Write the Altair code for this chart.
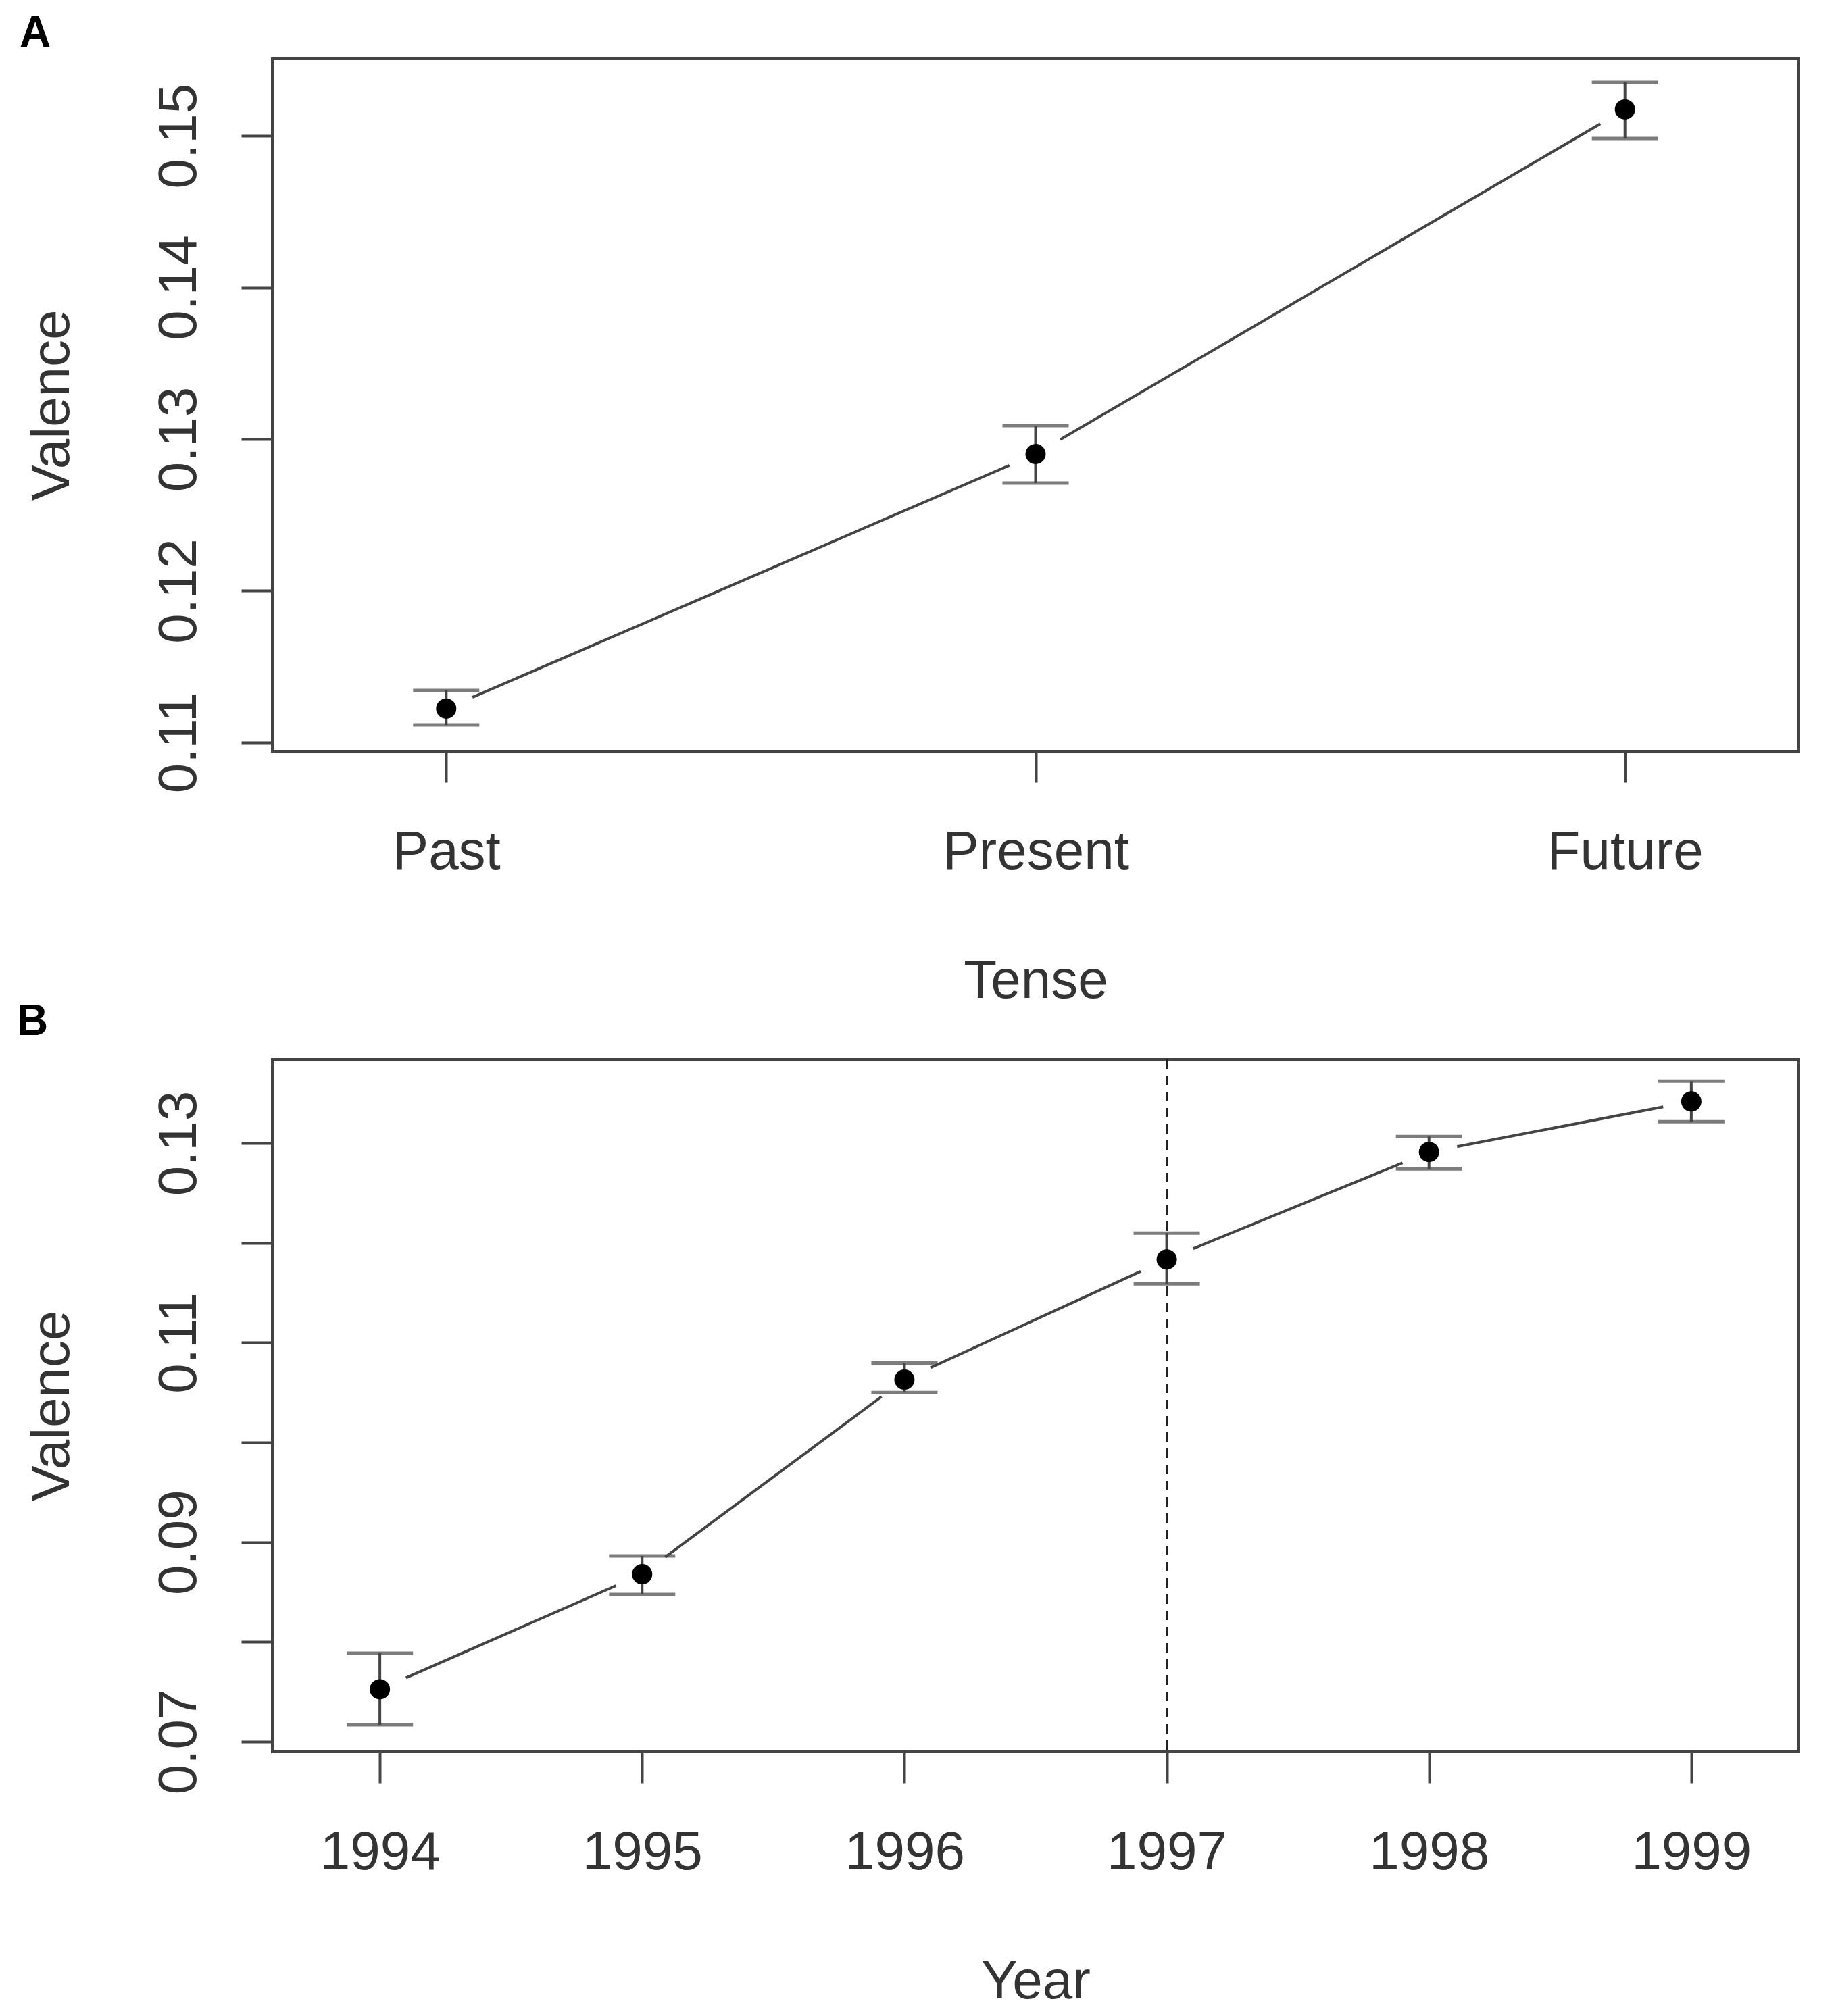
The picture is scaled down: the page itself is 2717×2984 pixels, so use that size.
import altair as alt
import pandas as pd

# ---- data ----
tenses = ["Past", "Present", "Future"]
tense_mean = [0.11223, 0.12902, 0.15174]
tense_lo = [0.11116, 0.12710, 0.14982]
tense_hi = [0.11343, 0.13089, 0.15352]

years = [1994, 1995, 1996, 1997, 1998, 1999]
year_mean = [0.07525, 0.08679, 0.10629, 0.11834, 0.12911, 0.13418]
year_lo = [0.07169, 0.08476, 0.10500, 0.11590, 0.12741, 0.13215]
year_hi = [0.07887, 0.08862, 0.10795, 0.12098, 0.13066, 0.13621]
cutoff_year = [1997]

ticks_a = [0.11, 0.12, 0.13, 0.14, 0.15]
ticks_b = [0.07, 0.08, 0.09, 0.10, 0.11, 0.12, 0.13]
panel_labels = ["A", "B"]

# ---- styling ----
FONT = "Liberation Sans"
TXT = "#333333"
INK = "#444444"
W, H = 2259, 1025

dfa = pd.DataFrame({"tense": tenses, "mean": tense_mean, "lo": tense_lo, "hi": tense_hi})
dfb = pd.DataFrame({"year": years, "mean": year_mean, "lo": year_lo, "hi": year_hi})


def x_axis(title, **kw):
    return alt.Axis(title=title, labelAngle=0, labelBaseline="alphabetic",
                    labelPadding=127, labelLimit=0, titleX=W / 2, titleY=364,
                    titleBaseline="alphabetic", titleAlign="center", **kw)


def y_axis(values, **kw):
    return alt.Axis(title="Valence", values=values, format=".2f", labelAngle=270,
                    labelAlign="center", labelBaseline="alphabetic", labelPadding=68,
                    labelLimit=0, titleX=-302, titleY=H / 2, titleAngle=270,
                    titleBaseline="alphabetic", titleAlign="center", **kw)


def panel(df, xenc_fn, yscale, yax, label, label_x, label_y, extra=None):
    base = alt.Chart(df)

    def Y(field):
        return alt.Y(f"{field}:Q", scale=yscale, axis=yax)

    line = base.mark_line(color=INK, strokeWidth=4).encode(x=xenc_fn(), y=Y("mean"))
    halo = base.mark_circle(size=7200, color="white", opacity=1).encode(x=xenc_fn(), y=Y("mean"))
    stem = base.mark_rule(color=INK, strokeWidth=4).encode(x=xenc_fn(), y=Y("lo"), y2="hi:Q")
    cap_lo = base.mark_tick(orient="horizontal", size=98, thickness=5, color=INK).encode(
        x=xenc_fn(), y=Y("lo"))
    cap_hi = base.mark_tick(orient="horizontal", size=98, thickness=5, color=INK).encode(
        x=xenc_fn(), y=Y("hi"))
    pts = base.mark_circle(size=900, color="black", opacity=1).encode(x=xenc_fn(), y=Y("mean"))
    lab = alt.Chart(pd.DataFrame({"label": [label]})).mark_text(
        align="left", baseline="alphabetic", font=FONT, fontWeight="bold",
        fontSize=64, color="black").encode(
        text="label:N", x=alt.value(label_x), y=alt.value(label_y))
    layers = [line, halo]
    if extra is not None:
        layers.append(extra)
    layers += [stem, cap_lo, cap_hi, pts, lab]
    return alt.layer(*layers).properties(width=W, height=H)


# panel A
xa_scale = alt.Scale(type="point", padding=0.295)


def xa():
    return alt.X("tense:N", sort=tenses, scale=xa_scale, axis=x_axis("Tense"))


ya_scale = alt.Scale(domain=[0.10942, 0.15508], nice=False, zero=False)
chart_a = panel(dfa, xa, ya_scale, y_axis(ticks_a), panel_labels[0], -374, -18)

# panel B
xb_scale = alt.Scale(domain=[1993.59, 1999.41], nice=False, zero=False)


def xb():
    return alt.X("year:Q", scale=xb_scale, axis=x_axis("Year", values=years, format="d"))


yb_scale = alt.Scale(domain=[0.06898, 0.13840], nice=False, zero=False)
yb_axis = y_axis(ticks_b, labelExpr="round(datum.value*100) % 2 == 1 ? datum.label : ''")
dash = alt.Chart(pd.DataFrame({"year": cutoff_year})).mark_rule(
    strokeDash=[14, 10], color="#222222", strokeWidth=3).encode(x=xb())
chart_b = panel(dfb, xb, yb_scale, yb_axis, panel_labels[1], -378, -36, extra=dash)

chart = alt.vconcat(chart_a, chart_b, spacing=456, bounds="flush").properties(
    padding={"left": 15, "top": 8, "right": 10, "bottom": 5}
).configure_view(
    stroke=INK, strokeWidth=4
).configure_axis(
    domain=False, grid=False, tickColor=INK, tickWidth=4, tickSize=46,
    labelFont=FONT, labelFontSize=80, labelColor=TXT,
    titleFont=FONT, titleFontSize=80, titleFontWeight="normal", titleColor=TXT,
    labelOverlap=False, labelFlush=False
)

chart.save("out.html", embed_options={"renderer": "svg", "actions": False})
